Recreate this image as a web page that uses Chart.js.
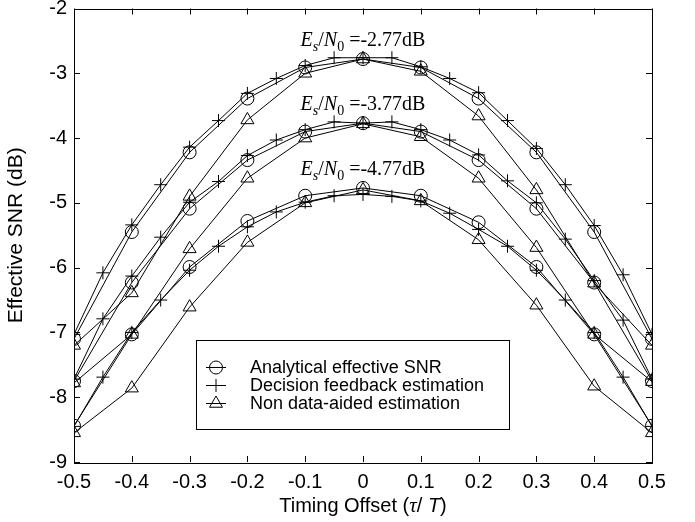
<!DOCTYPE html>
<html>
<head>
<meta charset="utf-8">
<script src="https://cdn.jsdelivr.net/npm/chart.js@4.4.0/dist/chart.umd.min.js"></script>
<style>
  html, body { margin: 0; padding: 0; background: #fff; }
  #contenedor { width: 695px; height: 522px; }
</style>
</head>
<body>
<div id="contenedor"><canvas id="grafico" width="695" height="522"></canvas></div>
<script>
// ==========================================
// SNR EFECTIVA vs DESFASE DE TIEMPO
// ==========================================

// ejes
const desfase10 = [-0.5, -0.4, -0.3, -0.2, -0.1, 0, 0.1, 0.2, 0.3, 0.4, 0.5];
const desfase05 = [-0.5, -0.45, -0.4, -0.35, -0.3, -0.25, -0.2, -0.15, -0.1, -0.05, 0,
                   0.05, 0.1, 0.15, 0.2, 0.25, 0.3, 0.35, 0.4, 0.45, 0.5];
const ticksY = [-9, -8, -7, -6, -5, -4, -3, -2];

// Es/N0 = -2.77 dB
const analitica277 = [-7.1, -5.45, -4.22, -3.39, -2.91, -2.78, -2.91, -3.39, -4.22, -5.45, -7.1];
const decision277 = [-7.03, -6.08, -5.34, -4.72, -4.14, -3.73, -3.31, -3.08, -2.88, -2.76, -2.76,
                     -2.76, -2.9, -3.08, -3.3, -3.73, -4.16, -4.72, -5.35, -6.11, -7.03];
const noAyuda277 = [-7.2, -6.39, -4.9, -3.72, -3.0, -2.78, -2.97, -3.66, -4.8, -6.24, -7.2];

// Es/N0 = -3.77 dB
const analitica377 = [-7.75, -6.23, -5.09, -4.34, -3.9, -3.77, -3.9, -4.34, -5.09, -6.23, -7.75];
const decision377 = [-7.72, -6.79, -6.13, -5.53, -4.99, -4.67, -4.27, -4.03, -3.87, -3.75, -3.77,
                     -3.75, -3.87, -4.03, -4.26, -4.66, -5.0, -5.56, -6.2, -6.81, -7.72];
const noAyuda377 = [-7.78, -7.03, -5.71, -4.62, -4.0, -3.78, -3.98, -4.62, -5.69, -7.03, -7.76];

// Es/N0 = -4.77 dB
const analitica477 = [-8.44, -7.03, -5.99, -5.28, -4.89, -4.77, -4.89, -5.3, -5.99, -7.03, -8.44];
const decision477 = [-8.45, -7.69, -7.0, -6.5, -6.04, -5.67, -5.37, -5.14, -4.99, -4.89, -4.87,
                     -4.9, -4.97, -5.16, -5.41, -5.67, -6.04, -6.5, -7.0, -7.69, -8.45];
const noAyuda477 = [-8.55, -7.86, -6.61, -5.61, -5.0, -4.8, -4.97, -5.57, -6.58, -7.83, -8.55];

const nivelesEsN0 = ["-2.77", "-3.77", "-4.77"];
const picosEsN0 = [analitica277[5], analitica377[5], analitica477[5]];

const nombresLeyenda = [
    "Analytical effective SNR",
    "Decision feedback estimation",
    "Non data-aided estimation"
];

const SANS = '"Liberation Sans", Arial, sans-serif';
const SERIF = '"Liberation Serif", "Times New Roman", serif';

const estilos = [
    { punto: "circle", radio: 6.5 },
    { punto: "cross", radio: 6.5 },
    { punto: "triangle", radio: 7.5 }
];

function serie(xs, ys, tipo) {
    const e = estilos[tipo];
    return {
        data: xs.map((x, i) => ({ x: x, y: ys[i] })),
        borderColor: "#000",
        borderWidth: 1,
        backgroundColor: "rgba(0,0,0,0)",
        pointStyle: e.punto,
        pointRadius: e.radio,
        pointBorderColor: "#000",
        pointBackgroundColor: "rgba(0,0,0,0)",
        pointBorderWidth: 1,
        tension: 0,
        fill: false
    };
}

function marcador(ctx, tipo, x, y, r) {
    ctx.beginPath();
    if (tipo === "circle") {
        ctx.arc(x, y, r, 0, Math.PI * 2);
    } else if (tipo === "cross") {
        ctx.moveTo(x - r, y); ctx.lineTo(x + r, y);
        ctx.moveTo(x, y - r); ctx.lineTo(x, y + r);
    } else {
        const a = 2 * Math.PI / 3;
        ctx.moveTo(x, y - r);
        ctx.lineTo(x + r * Math.sin(a), y - r * Math.cos(a));
        ctx.lineTo(x - r * Math.sin(a), y - r * Math.cos(a));
        ctx.closePath();
    }
    ctx.stroke();
}

// texto con fuentes mezcladas, centrado en cx
function textoMixto(ctx, partes, cx, base) {
    let ancho = 0;
    partes.forEach(p => { ctx.font = p.font; ancho += ctx.measureText(p.t).width; });
    let x = cx - ancho / 2;
    ctx.textAlign = "left";
    ctx.textBaseline = "alphabetic";
    partes.forEach(p => {
        ctx.font = p.font;
        ctx.fillText(p.t, x, base + (p.dy || 0));
        x += ctx.measureText(p.t).width;
    });
}

const decoracion = {
    id: "decoracion",
    afterDraw(chart) {
        const { ctx, chartArea: a, scales } = chart;
        const sx = scales.x, sy = scales.y;
        ctx.save();
        ctx.strokeStyle = "#000";
        ctx.fillStyle = "#000";
        ctx.lineWidth = 1;

        // marco y marcas hacia dentro
        ctx.strokeRect(Math.round(a.left) + 0.5, Math.round(a.top) + 0.5,
                       Math.round(a.right - a.left), Math.round(a.bottom - a.top));
        ctx.beginPath();
        desfase10.forEach(v => {
            const px = Math.round(sx.getPixelForValue(v)) + 0.5;
            ctx.moveTo(px, a.bottom); ctx.lineTo(px, a.bottom - 6);
            ctx.moveTo(px, a.top); ctx.lineTo(px, a.top + 6);
        });
        ticksY.forEach(v => {
            const py = Math.round(sy.getPixelForValue(v)) + 0.5;
            ctx.moveTo(a.left, py); ctx.lineTo(a.left + 6, py);
            ctx.moveTo(a.right, py); ctx.lineTo(a.right - 6, py);
        });
        ctx.stroke();

        // etiquetas Es/N0
        const cx = sx.getPixelForValue(0);
        nivelesEsN0.forEach((nivel, i) => {
            const base = sy.getPixelForValue(picosEsN0[i]) - 13;
            textoMixto(ctx, [
                { t: "E", font: "italic 20px " + SERIF },
                { t: "s", font: "italic 14px " + SERIF, dy: 5 },
                { t: "/", font: "20px " + SERIF },
                { t: "N", font: "italic 20px " + SERIF },
                { t: "0", font: "14px " + SERIF, dy: 5 },
                { t: " =" + nivel + "dB", font: "20px " + SERIF }
            ], cx, base);
        });

        // titulo eje x
        textoMixto(ctx, [
            { t: "Timing Offset (", font: "20px " + SANS },
            { t: "\u03C4", font: "italic 21px " + SERIF },
            { t: "/ ", font: "20px " + SANS },
            { t: "T", font: "italic 20px " + SANS },
            { t: ")", font: "20px " + SANS }
        ], (a.left + a.right) / 2, 512);

        // leyenda
        const lx = 196, ly = 340, lw = 313, lh = 89;
        ctx.fillStyle = "#fff";
        ctx.fillRect(lx, ly, lw, lh);
        ctx.strokeRect(lx + 0.5, ly + 0.5, lw, lh);
        ctx.fillStyle = "#000";
        ctx.font = "18px " + SANS;
        ctx.textBaseline = "middle";
        nombresLeyenda.forEach((nombre, i) => {
            const yy = ly + 27 + i * 18;
            ctx.beginPath();
            ctx.moveTo(lx + 10, yy + 0.5); ctx.lineTo(lx + 30, yy + 0.5);
            ctx.stroke();
            marcador(ctx, estilos[i].punto, lx + 20, yy + 0.5, estilos[i].radio);
            ctx.fillText(nombre, lx + 54, yy + 1);
        });
        ctx.restore();
    }
};

new Chart(document.getElementById("grafico"), {
    type: "line",
    data: {
        datasets: [
            serie(desfase10, analitica277, 0),
            serie(desfase05, decision277, 1),
            serie(desfase10, noAyuda277, 2),
            serie(desfase10, analitica377, 0),
            serie(desfase05, decision377, 1),
            serie(desfase10, noAyuda377, 2),
            serie(desfase10, analitica477, 0),
            serie(desfase05, decision477, 1),
            serie(desfase10, noAyuda477, 2)
        ]
    },
    options: {
        responsive: false,
        animation: false,
        layout: { padding: { top: 5, right: 43, left: 0, bottom: 0 } },
        plugins: {
            legend: { display: false },
            tooltip: { enabled: false }
        },
        scales: {
            x: {
                type: "linear",
                min: -0.5,
                max: 0.5,
                afterFit(s) {
                    s.height = 60;
                    s.paddingLeft = 0;
                    s.paddingRight = 0;
                },
                grid: { display: false, drawTicks: false },
                border: { display: false },
                afterBuildTicks(s) { s.ticks = desfase10.map(v => ({ value: v })); },
                ticks: {
                    autoSkip: false,
                    maxRotation: 0,
                    padding: 8,
                    color: "#000",
                    font: { family: SANS, size: 20 },
                    callback: v => String(Math.round(v * 10) / 10)
                }
            },
            y: {
                type: "linear",
                min: -9,
                max: -2,
                afterFit(s) {
                    s.width = 74;
                    s.paddingTop = 0;
                    s.paddingBottom = 0;
                },
                grid: { display: false, drawTicks: false },
                border: { display: false },
                afterBuildTicks(s) { s.ticks = ticksY.map(v => ({ value: v })); },
                ticks: {
                    padding: 7,
                    color: "#000",
                    font: { family: SANS, size: 20 }
                },
                title: {
                    display: true,
                    text: "Effective SNR (dB)",
                    color: "#000",
                    font: { family: SANS, size: 21 },
                    padding: { top: 4, bottom: 0 }
                }
            }
        }
    },
    plugins: [decoracion]
});
</script>
</body>
</html>
